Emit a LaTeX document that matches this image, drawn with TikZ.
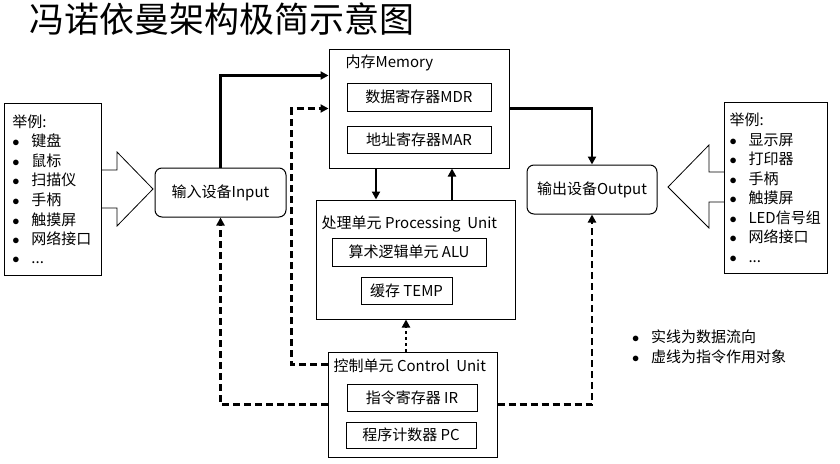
\documentclass[tikz,border=0pt]{standalone}
\usepackage{fontspec}
\setmainfont{Noto Sans CJK SC}
\usepackage{tikz}
\usetikzlibrary{arrows.meta}

\newcommand{\exitem}[1]{\makebox[19pt][l]{$\bullet$}#1}

\begin{document}
\begin{tikzpicture}[
		x=1pt, y=-1pt,
		font=\fontsize{15}{19.5}\selectfont,
		unitbox/.style={
			draw,
			line width=1pt,
			inner sep=0pt
		},
		regbox/.style={
			draw,
			line width=1pt,
			inner sep=0pt
		},
		iobox/.style={
			draw,
			line width=1pt,
			rounded corners=7pt,
			inner sep=0pt
		},
		listbox/.style={
			draw,
			line width=1pt,
			anchor=north west,
			align=left,
			inner ysep=0pt
		},
		dataflow/.style={-{Triangle[length=8pt,width=8pt]}, line width=2.8pt},
		ctrlflow/.style={dataflow, dash pattern=on 7pt off 4pt},
		ctrldot/.style={dataflow, dash pattern=on 3pt off 3pt}
	]
		\useasboundingbox (0,0) rectangle (840,463);

		\node[anchor=west, inner sep=0pt, font=\fontsize{35}{40}\selectfont] (title) at (29,19) {冯诺依曼架构极简示意图};

		% memory
		\node[unitbox, minimum width=180pt, minimum height=119pt] (mem) at (419,108.5) {};
		\node[anchor=west, inner sep=0pt] (memtitle) at ([xshift=17pt,yshift=-14pt]mem.north west) {内存Memory};
		\node[regbox, minimum width=144pt, minimum height=28pt] (mdr) at (419,97) {数据寄存器MDR};
		\node[regbox, minimum width=144pt, minimum height=27pt] (mar) at (419,139.5) {地址寄存器MAR};

		% processing unit
		\node[unitbox, minimum width=199pt, minimum height=119pt] (proc) at (415.5,259.5) {};
		\node[anchor=west, inner sep=0pt] (proctitle) at ([xshift=6pt,yshift=-25pt]proc.north west) {处理单元 Processing~~Unit};
		\node[regbox, minimum width=154pt, minimum height=28pt] (alu) at (409,252) {算术逻辑单元 ALU};
		\node[regbox, minimum width=91pt, minimum height=27pt] (temp) at (406.5,290.5) {缓存 TEMP};

		% control unit
		\node[unitbox, minimum width=169pt, minimum height=105pt] (ctrl) at (412.5,404.5) {};
		\node[anchor=west, inner sep=0pt] (ctrltitle) at ([xshift=6pt,yshift=-14pt]ctrl.north west) {控制单元 Control~~Unit};
		\node[regbox, minimum width=130pt, minimum height=27pt] (ir) at (412,397.5) {指令寄存器 IR};
		\node[regbox, minimum width=130pt, minimum height=26pt] (pc) at (411,435) {程序计数器 PC};

		% input / output
		\node[iobox, minimum width=131pt, minimum height=49pt] (input) at (220.5,192.5) {输入设备Input};
		\node[iobox, minimum width=130pt, minimum height=49pt] (output) at (592,189.5) {输出设备Output};

		\node[listbox, minimum width=97pt, minimum height=172pt, inner xsep=8pt, text width=81pt] (inlist) at (4,103) {
			举例:\\
			\exitem{键盘}\\
			\exitem{鼠标}\\
			\exitem{扫描仪}\\
			\exitem{手柄}\\
			\exitem{触摸屏}\\
			\exitem{网络接口}\\
			\exitem{...}
		};
		\node[listbox, minimum width=103pt, minimum height=171pt, inner xsep=5pt, text width=93pt] (outlist) at (724,102) {
			举例:\\
			\exitem{显示屏}\\
			\exitem{打印器}\\
			\exitem{手柄}\\
			\exitem{触摸屏}\\
			\exitem{LED信号组}\\
			\exitem{网络接口}\\
			\exitem{...}
		};

		% block arrows
		\draw[line width=0.8pt] (101,170) -- (117,170) -- (117,152) -- (153,189) -- (117,226) -- (117,208) -- (101,208);
		\draw[line width=0.8pt] (724,172) -- (709,172) -- (709,145) -- (668,187) -- (709,228) -- (709,202) -- (724,202);

		% data flow
		\draw[dataflow] (input.north) |- ([yshift=-27pt]mem.north west);
		\draw[dataflow] (mem.east) -| (output.north);
		\draw[dataflow] ([xshift=-43pt]mem.south) -- ([xshift=-39.5pt]proc.north);
		\draw[dataflow] ([xshift=36.5pt]proc.north) -- ([xshift=33pt]mem.south);

		% control flow
		\draw[ctrlflow] ([yshift=-13pt]ctrl.north west) -| ([xshift=-37pt]mem.west) -- (mem.west);
		\draw[ctrlflow] (ctrl.west) -| (input.south);
		\draw[ctrlflow] (ctrl.east) -| (output.south);
		\draw[ctrldot] ([xshift=-6.5pt]ctrl.north) -- ([xshift=-9.5pt]proc.south);

		\node[anchor=west, align=left, inner sep=0pt, font=\fontsize{15}{20.5}\selectfont] (notes) at (632,347) {
			\exitem{实线为数据流向}\\
			\exitem{虚线为指令作用对象}
		};
	\end{tikzpicture}
\end{document}
